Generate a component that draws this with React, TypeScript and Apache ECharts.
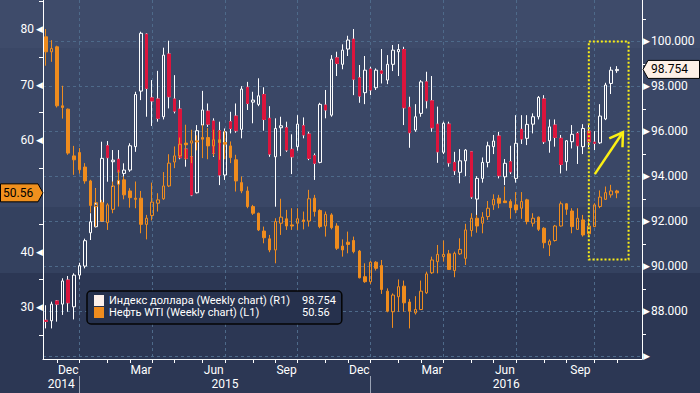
import React, { useEffect, useRef } from 'react';
import * as echarts from 'echarts';

// ---------- data ----------
const FIRST_WEEK_UTC = [2014, 10, 14]; // Friday 14 Nov 2014
const WEEK_COUNT = 107; // 103 weekly bars + 4 empty weeks at the right edge

const DOLLAR_NAME = 'Индекс доллара (Weekly chart) (R1)';
const OIL_NAME = 'Нефть WTI (Weekly chart) (L1)';

// [open, close, low, high]
const dollarCandles: number[][] = [
  [87.6, 87.55, 87.24, 88.27], [87.58, 88.32, 87.24, 88.43], [88.46, 88.32, 87.54, 88.5], [88.32, 89.35, 87.84, 89.47],
  [89.39, 88.38, 87.98, 89.57], [88.2, 89.61, 87.64, 89.69], [89.61, 90.03, 89.42, 90.16], [90.01, 91.14, 89.91, 91.23],
  [91.49, 91.98, 91.17, 92.36], [91.76, 92.77, 91.73, 93.47], [92.01, 94.8, 91.98, 95.54], [95.36, 94.83, 93.76, 95.57],
  [94.65, 94.72, 93.54, 95.17], [94.76, 94.2, 93.32, 95.17], [94.13, 94.28, 93.69, 94.58], [94.28, 95.36, 94.2, 95.47],
  [95.32, 97.64, 95.09, 97.76], [97.79, 100.36, 97.39, 100.43], [100.32, 97.91, 96.65, 100.36], [97.49, 97.35, 96.24, 98.28],
  [97.44, 96.58, 96.43, 98.69], [96.65, 99.39, 96.53, 99.72], [99.44, 97.54, 97.02, 100.03], [97.44, 96.9, 96.8, 98.5],
  [96.99, 94.83, 94.76, 97.39], [95.21, 94.8, 94.43, 95.91], [94.87, 93.17, 93.12, 95.09], [93.27, 96.03, 93.24, 96.28],
  [96.28, 96.95, 96.24, 97.8], [96.9, 96.32, 96.2, 97.24], [96.46, 95.02, 94.87, 96.58], [96.03, 94.06, 93.61, 96.43],
  [94.06, 95.98, 93.84, 96.13], [96.43, 96.13, 95.91, 96.87], [96.68, 96.03, 95.94, 97.24], [96.09, 97.88, 95.69, 98.01],
  [97.96, 97.24, 96.95, 98.2], [97.3, 97.39, 96.36, 97.76], [97.2, 97.58, 97.12, 98.36], [97.64, 96.53, 96.03, 97.96],
  [96.58, 94.99, 94.87, 97.12], [94.87, 96.13, 92.65, 96.58], [96.16, 96.25, 94.9, 96.65], [96.16, 95.17, 95.09, 96.43],
  [95.2, 94.87, 94.1, 95.87], [95.32, 96.32, 95.14, 96.72], [96.25, 95.84, 95.69, 96.62], [95.88, 94.8, 94.72, 95.98],
  [94.92, 94.58, 93.84, 95.02], [94.62, 97.2, 94.58, 97.27], [97.17, 96.95, 96.58, 97.84], [96.72, 99.21, 96.65, 99.39],
  [99.27, 99.02, 98.46, 99.54], [98.98, 99.61, 98.76, 99.87], [99.66, 100.06, 99.35, 100.25], [100.1, 98.32, 97.61, 100.55],
  [98.38, 97.57, 97.27, 98.95], [97.72, 98.72, 97.21, 99.35], [98.77, 97.84, 97.61, 98.87], [97.94, 98.72, 97.84, 98.8],
  [98.69, 98.58, 98.13, 99.66], [98.28, 98.98, 98.1, 99.39], [98.98, 99.61, 98.68, 99.84], [99.54, 99.64, 98.46, 99.88],
  [99.64, 97.05, 96.28, 99.76], [97.07, 95.94, 95.27, 97.54], [96.06, 96.65, 95.98, 97.21], [96.8, 98.2, 96.65, 98.28],
  [98.2, 97.36, 97.02, 98.65], [97.36, 96.16, 95.98, 98.46], [96.32, 95.09, 94.6, 97.1], [95.07, 96.36, 94.99, 96.43],
  [96.32, 94.6, 94.43, 96.43], [94.62, 94.25, 94.06, 95.09], [94.18, 94.69, 93.69, 95.21], [94.69, 95.17, 94.01, 95.21],
  [95.09, 93.09, 93.0, 95.12], [92.99, 93.91, 92.2, 94.01], [93.91, 94.62, 93.72, 94.84], [94.62, 95.36, 94.4, 95.54],
  [95.32, 95.57, 94.99, 95.84], [95.79, 94.03, 93.91, 95.98], [93.98, 94.58, 93.61, 94.77], [94.65, 94.2, 94.1, 95.36],
  [93.91, 95.47, 93.72, 96.72], [96.09, 95.66, 95.44, 96.72], [95.69, 96.31, 95.39, 96.72], [96.32, 96.65, 95.91, 96.8],
  [96.65, 97.51, 96.53, 97.57], [97.44, 95.54, 95.44, 97.61], [95.58, 96.2, 95.05, 96.53], [96.28, 95.73, 95.32, 96.53],
  [95.69, 94.53, 94.13, 95.84], [94.65, 95.58, 94.25, 95.61], [95.54, 95.87, 95.24, 96.28], [95.91, 95.36, 94.55, 95.98],
  [95.32, 96.13, 94.99, 96.32], [96.01, 95.54, 95.3, 96.3], [95.52, 95.47, 95.17, 96.01], [95.49, 96.68, 95.44, 97.21],
  [96.55, 98.06, 96.5, 98.16], [98.13, 98.72, 97.66, 98.87], [98.7, 98.754, 98.6, 98.9],
];

// [open, close, low, high]
const oilCandles: number[][] = [
  [78.6, 75.9, 73.4, 80.0], [75.9, 76.5, 74.1, 78.0], [76.8, 66.2, 65.9, 77.0], [66.2, 65.9, 63.9, 69.8],
  [65.6, 57.7, 57.4, 65.7], [57.2, 56.5, 53.8, 59.0], [57.8, 54.7, 54.0, 58.6], [55.2, 52.7, 52.2, 55.9],
  [52.7, 48.3, 47.0, 52.9], [48.1, 48.8, 44.5, 51.4], [48.8, 45.5, 45.4, 49.3], [45.2, 48.4, 43.9, 48.7],
  [47.6, 51.8, 46.9, 52.6], [52.1, 52.8, 48.1, 54.7], [52.9, 50.2, 49.4, 53.5], [50.9, 49.7, 47.9, 51.4],
  [49.6, 49.4, 47.8, 52.6], [49.6, 44.9, 43.3, 50.9], [44.9, 46.0, 42.2, 46.6], [46.5, 48.9, 45.6, 52.4],
  [48.7, 49.3, 47.2, 50.5], [49.5, 51.8, 49.3, 54.3], [51.8, 55.9, 51.6, 57.5], [56.1, 57.2, 55.0, 58.9],
  [57.2, 59.3, 56.8, 60.5], [59.5, 59.2, 56.5, 62.8], [59.5, 59.9, 55.9, 61.9], [59.9, 59.7, 58.2, 60.9],
  [60.5, 60.2, 56.8, 62.8], [60.5, 59.0, 56.6, 62.2], [59.0, 60.1, 57.2, 61.9], [60.1, 59.6, 56.5, 61.7],
  [59.6, 59.3, 56.6, 61.7], [59.0, 56.9, 55.9, 59.8], [56.5, 52.7, 50.8, 57.4], [52.4, 50.9, 50.5, 53.5],
  [50.9, 48.1, 47.8, 51.7], [48.1, 46.9, 46.6, 48.4], [46.9, 43.9, 43.7, 47.0], [43.7, 42.5, 41.5, 44.5],
  [42.3, 40.3, 39.9, 43.0], [40.3, 45.4, 37.9, 46.0], [45.1, 46.2, 43.0, 49.5], [45.9, 44.6, 43.9, 47.5],
  [44.8, 44.6, 43.9, 47.8], [45.1, 45.9, 43.9, 47.8], [45.7, 45.4, 44.0, 47.2], [45.5, 49.5, 44.5, 51.1],
  [49.6, 47.2, 46.3, 50.2], [47.4, 44.5, 44.2, 47.6], [44.6, 46.7, 42.7, 47.2], [46.6, 44.3, 44.0, 46.9],
  [44.6, 40.6, 40.3, 45.1], [41.0, 40.3, 39.1, 42.2], [41.7, 41.3, 39.7, 43.6], [42.0, 40.0, 39.7, 42.7],
  [40.1, 35.3, 35.2, 40.3], [35.5, 34.6, 34.4, 37.9], [34.6, 38.1, 34.2, 38.3], [38.1, 37.0, 36.6, 38.3],
  [37.5, 33.2, 32.4, 38.5], [32.9, 29.3, 29.1, 33.4], [29.2, 32.2, 26.3, 32.5], [31.9, 33.7, 29.2, 35.0],
  [33.8, 30.8, 29.2, 34.8], [30.95, 29.3, 26.2, 31.5], [29.0, 29.6, 28.7, 32.0], [29.6, 32.9, 29.5, 34.8],
  [32.6, 36.0, 32.4, 36.4], [36.2, 38.5, 36.0, 39.1], [38.2, 39.5, 36.1, 41.2], [39.1, 39.5, 38.2, 42.0],
  [39.6, 36.8, 36.7, 40.3], [36.6, 39.7, 35.4, 40.0], [39.6, 40.4, 39.4, 42.4], [38.8, 43.9, 37.6, 45.0],
  [43.8, 46.0, 42.7, 46.9], [46.0, 44.6, 43.4, 46.6], [45.1, 46.2, 43.3, 47.1], [46.3, 47.8, 45.7, 49.1],
  [48.4, 49.4, 47.5, 50.3], [49.6, 48.7, 47.8, 50.2], [49.1, 48.8, 48.75, 51.7], [49.0, 47.9, 45.9, 49.4],
  [48.4, 47.5, 46.9, 50.7], [47.8, 49.0, 45.9, 50.7], [49.3, 45.4, 44.9, 49.5], [45.1, 46.0, 44.5, 46.9],
  [46.2, 44.0, 43.7, 46.3], [44.2, 41.6, 40.6, 44.4], [41.2, 41.9, 39.2, 42.2], [42.0, 44.6, 41.8, 44.8],
  [44.6, 48.6, 44.5, 49.0], [48.6, 47.6, 46.6, 48.7], [47.3, 44.5, 43.3, 47.8], [44.0, 46.0, 43.9, 47.8],
  [45.7, 43.0, 42.7, 46.6], [43.2, 44.6, 42.9, 46.0], [44.5, 48.4, 44.4, 48.7], [48.1, 49.8, 47.8, 51.0],
  [49.4, 50.6, 49.3, 51.7], [50.2, 50.9, 49.7, 52.0], [50.9, 50.56, 49.6, 51.1],
];

const oilRange = [20.71, 85.21];
const dollarRange = [85.88, 101.84];
const oilLabelTicks = [30, 40, 50, 60, 70, 80];
const oilMinorTicks = [25, 35, 45, 55, 65, 75, 85];
const dollarLabelTicks = [86, 88, 90, 92, 94, 96, 98, 100];
const dollarUnlabelledTicks = [86]; // marker only, no number, at the bottom edge
const dollarMinorTicks = [87, 89, 91, 93, 95, 97, 99, 101];
const monthNames = ['Jan', 'Feb', 'Mar', 'Apr', 'May', 'Jun', 'Jul', 'Aug', 'Sep', 'Oct', 'Nov', 'Dec'];
const labeledMonths = [11, 2, 5, 8]; // Dec, Mar, Jun, Sep

// annotations: [week index, dollar value]
const highlightBox = [97, 90.3, 104.1, 100];
const trendArrow = [98.07, 94.1, 103.1, 95.96];

// ---------- derived ----------
const weeks: Date[] = Array.from({ length: WEEK_COUNT }, (_, i) =>
  new Date(Date.UTC(FIRST_WEEK_UTC[0], FIRST_WEEK_UTC[1], FIRST_WEEK_UTC[2] + 7 * i)));
const weekLabels = weeks.map((d) => d.toISOString().slice(0, 10));
const monthEnds: number[] = [];
for (let i = 0; i < WEEK_COUNT - 1; i++) {
  if (weeks[i + 1].getUTCMonth() !== weeks[i].getUTCMonth()) monthEnds.push(i);
}
const monthLabels: { pos: number; text: string }[] = [];
monthEnds.forEach((k, j) => {
  const m = weeks[k].getUTCMonth();
  if (j > 0 && labeledMonths.includes(m)) monthLabels.push({ pos: (monthEnds[j - 1] + k) / 2, text: monthNames[m] });
});
const quarterEnds = monthEnds.filter((k) => labeledMonths.includes(weeks[k].getUTCMonth()));
const yearEnds = monthEnds.filter((k) => weeks[k].getUTCMonth() === 11);
const yearBounds = [-0.5, ...yearEnds, WEEK_COUNT - 0.5];
const yearLabels = yearBounds.slice(0, -1).map((b, i) => ({
  pos: (b + yearBounds[i + 1]) / 2,
  text: String(weeks[Math.max(0, Math.floor(b) + 1)].getUTCFullYear()),
}));

const lastDollar = dollarCandles[dollarCandles.length - 1][1];
const lastOil = oilCandles[oilCandles.length - 1][1];
// the oil axis label under the last-price tag is hidden by the tag
const shownOilLabels = oilLabelTicks.filter((v) => Math.abs(v - lastOil) > 2);
const legendValues: Record<string, string> = {
  [DOLLAR_NAME]: lastDollar.toFixed(3),
  [OIL_NAME]: lastOil.toFixed(2),
};

const WHITE = '#ffffff';
const RED = '#dc143c';
const ORANGE = '#ef8c1e';
const YELLOW = '#fbef14';
const GRID = '#4e6a8a';
const FONT = 'Roboto';

const findLabel = (list: { pos: number; text: string }[], v: number) =>
  (list.find((l) => Math.abs(l.pos - v) < 1e-6) || { text: '' }).text;

export default function App() {
  const ref = useRef<HTMLDivElement>(null);
  useEffect(() => {
    const chart = echarts.init(ref.current!, null, { renderer: 'svg' });
    const xMin = -0.5;
    const xMax = WEEK_COUNT - 0.5;
    const option: any = {
      animation: false,
      textStyle: { fontFamily: FONT },
      grid: { left: 43, right: 58, top: 0, bottom: 34, containLabel: false },
      legend: {
        left: 87, top: 291, orient: 'vertical', selectedMode: false,
        data: [
          { name: DOLLAR_NAME, itemStyle: { color: '#fdf0ea', borderWidth: 0 } },
          { name: OIL_NAME, itemStyle: { color: ORANGE, borderWidth: 0 } },
        ],
        icon: 'rect', itemWidth: 10, itemHeight: 11, itemGap: 1,
        backgroundColor: '#26314d', borderColor: '#050505', borderWidth: 1.5, borderRadius: 4,
        padding: [4, 6, 6, 7],
        formatter: (name: string) => `{n|${name}}{v|${legendValues[name]}}`,
        textStyle: {
          color: WHITE, fontSize: 11, fontFamily: FONT,
          rich: {
            n: { width: 193, fontSize: 11, color: WHITE, lineHeight: 13, fontFamily: FONT },
            v: { fontSize: 11, color: WHITE, lineHeight: 13, fontFamily: FONT },
          },
        },
      },
      xAxis: [
        { type: 'category', data: weekLabels, boundaryGap: true, show: false },
        {
          type: 'value', min: xMin, max: xMax, position: 'bottom',
          axisLine: { show: true, onZero: false, lineStyle: { color: WHITE, width: 1 } },
          axisTick: { show: true, customValues: monthEnds, length: 4, lineStyle: { color: WHITE } },
          axisLabel: {
            customValues: monthLabels.map((l) => l.pos), color: WHITE, fontSize: 12, margin: 5, fontFamily: FONT,
            formatter: (v: number) => findLabel(monthLabels, v),
          },
          splitLine: { show: false },
        },
        {
          type: 'value', min: xMin, max: xMax, position: 'bottom', offset: 17,
          axisLine: { show: false, onZero: false },
          axisTick: { show: true, customValues: yearEnds, length: 17, lineStyle: { color: '#9aa3b5' } },
          axisLabel: {
            customValues: yearLabels.map((l) => l.pos), color: WHITE, fontSize: 12, margin: 2, fontFamily: FONT,
            formatter: (v: number) => findLabel(yearLabels, v),
          },
          splitLine: { show: false },
        },
        {
          type: 'value', min: xMin, max: xMax, position: 'bottom',
          axisLine: { show: false, onZero: false },
          axisTick: { show: false, customValues: quarterEnds },
          axisLabel: { show: false },
          splitLine: { show: true, lineStyle: { color: GRID, width: 1, type: [3, 3] } },
        },
      ],
      yAxis: [
        {
          type: 'value', position: 'left', min: oilRange[0], max: oilRange[1],
          axisLine: { show: true, onZero: false, lineStyle: { color: WHITE } },
          axisTick: { show: true, customValues: oilMinorTicks, length: 4, lineStyle: { color: WHITE } },
          axisLabel: {
            customValues: shownOilLabels, margin: 0,
            formatter: (v: number) => `{v|${v}}{a|◀}`,
            rich: {
              v: { color: WHITE, fontSize: 12, fontFamily: FONT },
              a: { color: WHITE, fontSize: 9, fontFamily: 'DejaVu Sans', padding: [0, 0, 0, 2] },
            },
          },
          splitLine: { show: false },
        },
        {
          type: 'value', position: 'right', min: dollarRange[0], max: dollarRange[1],
          axisLine: { show: true, onZero: false, lineStyle: { color: WHITE } },
          axisTick: { show: true, customValues: dollarMinorTicks, length: 4, lineStyle: { color: WHITE } },
          axisLabel: {
            customValues: dollarLabelTicks, margin: 1,
            formatter: (v: number) => (dollarUnlabelledTicks.includes(v) ? '{a|▶}' : `{a|▶}{v|${v.toFixed(3)}}`),
            rich: {
              v: { color: WHITE, fontSize: 12, fontFamily: FONT, padding: [0, 0, 0, 1] },
              a: { color: WHITE, fontSize: 9, fontFamily: 'DejaVu Sans' },
            },
          },
          splitLine: { show: false },
        },
        {
          type: 'value', position: 'right', min: dollarRange[0], max: dollarRange[1],
          axisLine: { show: false, onZero: false },
          axisTick: { show: false, customValues: dollarLabelTicks },
          axisLabel: { show: false },
          splitLine: { show: true, lineStyle: { color: GRID, width: 1, type: [3, 3] } },
        },
      ],
      series: [
        {
          type: 'candlestick', name: DOLLAR_NAME, xAxisIndex: 0, yAxisIndex: 1, data: dollarCandles,
          barWidth: 3, silent: true,
          itemStyle: { color: 'transparent', color0: 'transparent', borderColor: WHITE, borderColor0: WHITE, borderWidth: 1 },
        },
        {
          type: 'candlestick', name: 'dollar-down-bodies', xAxisIndex: 0, yAxisIndex: 1,
          data: dollarCandles.map(([o, c]) => (o > c ? [o, c, c, o] : '-')),
          barWidth: 3, silent: true,
          itemStyle: { color: RED, color0: RED, borderColor: RED, borderColor0: RED, borderWidth: 1 },
        },
        {
          type: 'candlestick', name: OIL_NAME, xAxisIndex: 0, yAxisIndex: 0, data: oilCandles,
          barWidth: 3, silent: true,
          itemStyle: { color: 'transparent', color0: ORANGE, borderColor: ORANGE, borderColor0: ORANGE, borderWidth: 1 },
        },
        {
          type: 'custom', name: 'box', xAxisIndex: 1, yAxisIndex: 1, silent: true, z: 10, clip: false,
          data: [highlightBox], encode: { x: [0, 2], y: [1, 3] },
          renderItem: (_p: any, api: any) => {
            const p0 = api.coord([api.value(0), api.value(1)]);
            const p1 = api.coord([api.value(2), api.value(3)]);
            return {
              type: 'rect',
              shape: { x: p0[0], y: p1[1], width: p1[0] - p0[0], height: p0[1] - p1[1] },
              style: { fill: 'none', stroke: YELLOW, lineWidth: 2, lineDash: [2, 2] },
            };
          },
        },
        {
          type: 'custom', name: 'arrow', xAxisIndex: 1, yAxisIndex: 1, silent: true, z: 10, clip: false,
          data: [trendArrow], encode: { x: [0, 2], y: [1, 3] },
          renderItem: (_p: any, api: any) => {
            const p0 = api.coord([api.value(0), api.value(1)]);
            const p1 = api.coord([api.value(2), api.value(3)]);
            const ang = Math.atan2(p0[1] - p1[1], p0[0] - p1[0]);
            const len = 15;
            const spread = 0.56;
            const a1 = [p1[0] + len * Math.cos(ang + spread), p1[1] + len * Math.sin(ang + spread)];
            const a2 = [p1[0] + len * Math.cos(ang - spread), p1[1] + len * Math.sin(ang - spread)];
            return {
              type: 'group',
              children: [
                { type: 'line', shape: { x1: p0[0], y1: p0[1], x2: p1[0], y2: p1[1] }, style: { stroke: YELLOW, lineWidth: 2.5 } },
                { type: 'polyline', shape: { points: [a1, p1, a2] }, style: { stroke: YELLOW, lineWidth: 2.5, fill: 'none' } },
              ],
            };
          },
        },
      ],
    };
    chart.setOption(option);

    const yD = chart.convertToPixel({ yAxisIndex: 1 } as any, lastDollar) as unknown as number;
    const yO = chart.convertToPixel({ yAxisIndex: 0 } as any, lastOil) as unknown as number;
    const xR = chart.convertToPixel({ xAxisIndex: 1 } as any, xMax) as unknown as number;
    const xL = chart.convertToPixel({ xAxisIndex: 1 } as any, xMin) as unknown as number;
    const h = 9;
    chart.setOption({
      graphic: [
        {
          type: 'polygon', z: 100, silent: true,
          shape: { points: [[xR + 1, yD], [xR + 6, yD - h], [699.5, yD - h], [699.5, yD + h], [xR + 6, yD + h]] },
          style: { fill: '#fdf0e6', stroke: '#000', lineWidth: 1 },
        },
        {
          type: 'text', z: 101, silent: true, x: xR + 9, y: yD,
          style: { text: lastDollar.toFixed(3), fill: '#000', font: `12px ${FONT}`, align: 'left', verticalAlign: 'middle', textAlign: 'left', textVerticalAlign: 'middle' },
        },
        {
          type: 'polygon', z: 100, silent: true,
          shape: { points: [[0.5, yO - h], [xL - 5, yO - h], [xL, yO], [xL - 5, yO + h], [0.5, yO + h]] },
          style: { fill: '#f0901e', stroke: '#000', lineWidth: 1 },
        },
        {
          type: 'text', z: 101, silent: true, x: 3, y: yO,
          style: { text: lastOil.toFixed(2), fill: '#000', font: `12px ${FONT}`, align: 'left', verticalAlign: 'middle', textAlign: 'left', textVerticalAlign: 'middle' },
        },
      ],
    });
    return () => chart.dispose();
  }, []);
  return (
    <div
      ref={ref}
      style={{
        position: 'fixed', left: 0, top: 0, width: 700, height: 393,
        background: 'linear-gradient(to bottom, #3e4b6a 0px, #3e4b6a 48px, #3a4766 48px, #3a4766 207px, #34415f 207px, #34415f 273px, #2c3754 273px, #2c3754 393px)',
      }}
    />
  );
}
